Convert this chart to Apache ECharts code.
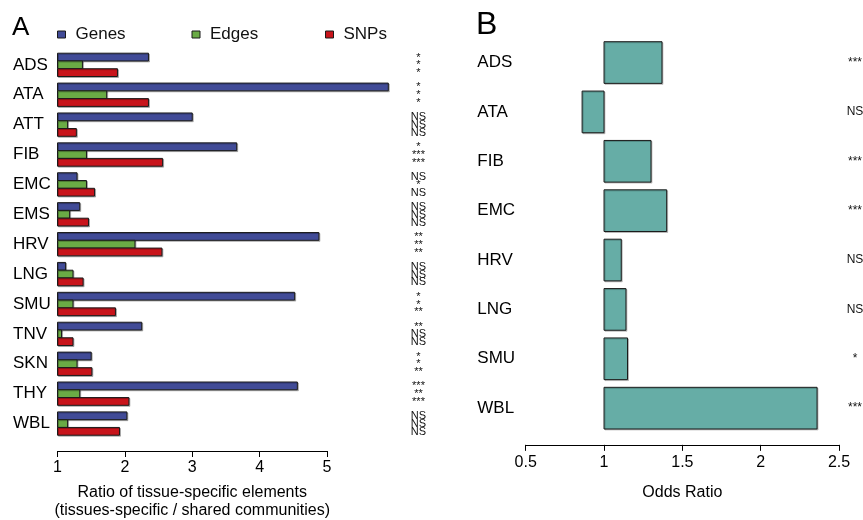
<!DOCTYPE html>
<html><head><meta charset="utf-8">
<script src="https://cdn.jsdelivr.net/npm/echarts@6/dist/echarts.min.js"></script>
<style>html,body{margin:0;padding:0;background:#fff}#c{width:863px;height:520px}</style>
</head><body><div id="c"></div>
<script>
// ---------- Panel A data ----------
const tissuesA = ['ADS','ATA','ATT','FIB','EMC','EMS','HRV','LNG','SMU','TNV','SKN','THY','WBL'];
const genes = [2.35, 5.91, 3.00, 3.66, 1.29, 1.33, 4.88, 1.12, 4.52, 2.25, 1.50, 4.56, 2.03];
const edges = [1.37, 1.73, 1.15, 1.43, 1.43, 1.18, 2.15, 1.23, 1.23, 1.06, 1.29, 1.33, 1.15];
const snps  = [1.89, 2.35, 1.28, 2.56, 1.55, 1.46, 2.55, 1.38, 1.86, 1.23, 1.51, 2.06, 1.92];
const sigGenes = ['*','*','NS','*','NS','NS','**','NS','*','**','*','***','NS'];
const sigEdges = ['*','*','NS','***','*','NS','**','NS','*','NS','*','**','NS'];
const sigSnps  = ['*','*','NS','***','NS','NS','**','NS','**','NS','**','***','NS'];
const seriesNamesA = ['Genes','Edges','SNPs'];
// ---------- Panel B data ----------
const tissuesB = ['ADS','ATA','FIB','EMC','HRV','LNG','SMU','WBL'];
const oddsRatio = [1.37, 0.86, 1.30, 1.40, 1.11, 1.14, 1.15, 2.36];
const sigB = ['***','NS','***','***','NS','NS','*','***'];

const FONT = '"Liberation Sans", Arial, Helvetica, sans-serif';
const colorsA = ['#414b97', '#6aab45', '#c8141b'];
const colorB = '#66ada6';
const STROKE = '#1a1a1a';

function makeA(k, vals, sig) {
  const color = colorsA[k];
  return {
    type: 'custom', name: seriesNamesA[k], xAxisIndex: 0, yAxisIndex: 0, clip: false,
    itemStyle: { color: color, borderColor: STROKE, borderWidth: 1 },
    data: vals.map((v, i) => [v, i]),
    encode: { x: 0, y: 1 },
    renderItem: function (params, api) {
      const v = api.value(0), i = api.value(1);
      const base = api.coord([1, i]);
      const end = api.coord([v, i]);
      const band = api.size([0, 1])[1];
      const bh = band * 0.78 / 3;
      const top = base[1] - 1.5 * bh + k * bh;
      const right = api.coord([5, i])[0];
      return {
        type: 'group',
        children: [
          { type: 'rect', shape: { x: base[0], y: top, width: end[0] - base[0], height: bh },
            style: { fill: color, stroke: STROKE, lineWidth: 1,
              shadowColor: 'rgba(0,0,0,0.25)', shadowOffsetX: 1, shadowOffsetY: 1, shadowBlur: 0 } },
          { type: 'text', x: right + 91.5, y: top + bh / 2 + 0.5,
            style: { text: sig[i], fill: '#111', fontSize: 11, fontFamily: FONT,
              align: 'center', verticalAlign: 'middle' } }
        ]
      };
    }
  };
}

const legendBase = {
  orient: 'horizontal', top: 24.5, padding: 0, itemWidth: 8, itemHeight: 7, icon: 'rect',
  selectedMode: false,
  textStyle: { fontSize: 17, fontFamily: FONT, color: '#111', lineHeight: 20, padding: [0, 0, 0, 5] }
};

const chart = echarts.init(document.getElementById('c'), null, { renderer: 'canvas' });
chart.setOption({
  animation: false,
  backgroundColor: '#fff',
  title: [
    { text: 'A', left: 12, top: 15, padding: 0, textStyle: { fontSize: 26, fontWeight: 'normal', fontFamily: FONT, color: '#000' } },
    { text: 'B', left: 476, top: 9.5, padding: 0, textStyle: { fontSize: 32, fontWeight: 'normal', fontFamily: FONT, color: '#000' } }
  ],
  legend: [
    Object.assign({}, legendBase, { left: 57, data: [{ name: 'Genes', itemStyle: { color: colorsA[0], borderColor: STROKE, borderWidth: 1 } }] }),
    Object.assign({}, legendBase, { left: 191.5, data: [{ name: 'Edges', itemStyle: { color: colorsA[1], borderColor: STROKE, borderWidth: 1 } }] }),
    Object.assign({}, legendBase, { left: 325, data: [{ name: 'SNPs', itemStyle: { color: colorsA[2], borderColor: STROKE, borderWidth: 1 } }] })
  ],
  grid: [
    { left: 57.5, top: 49.9, width: 269.5, height: 388.6, containLabel: false, outerBoundsMode: 'none' },
    { left: 525.7, top: 37.85, width: 313.3, height: 395, containLabel: false, outerBoundsMode: 'none' }
  ],
  xAxis: [
    { type: 'value', gridIndex: 0, min: 1, max: 5, interval: 1, offset: 12.5,
      splitLine: { show: false },
      axisLine: { show: true, lineStyle: { color: '#000', width: 1 } },
      axisTick: { show: true, length: 6, lineStyle: { color: '#000' } },
      axisLabel: { fontSize: 16, fontFamily: FONT, color: '#000', margin: 9 },
      name: 'Ratio of tissue-specific elements\n(tissues-specific / shared communities)',
      nameLocation: 'middle', nameGap: 32.7,
      nameTextStyle: { fontSize: 16, fontFamily: FONT, color: '#000', lineHeight: 18 } },
    { type: 'value', gridIndex: 1, min: 0.5, max: 2.5, interval: 0.5, offset: 12,
      splitLine: { show: false },
      axisLine: { show: true, lineStyle: { color: '#000', width: 1 } },
      axisTick: { show: true, length: 6, lineStyle: { color: '#000' } },
      axisLabel: { fontSize: 16, fontFamily: FONT, color: '#000', margin: 10 },
      name: 'Odds Ratio', nameLocation: 'middle', nameGap: 40,
      nameTextStyle: { fontSize: 16, fontFamily: FONT, color: '#000' } }
  ],
  yAxis: [
    { type: 'category', gridIndex: 0, data: tissuesA, inverse: true,
      axisLine: { show: false }, axisTick: { show: false }, splitLine: { show: false },
      axisLabel: { fontSize: 17, fontFamily: FONT, color: '#000', align: 'left', margin: 44.5, padding: [0, 0, 7, 0] } },
    { type: 'category', gridIndex: 1, data: tissuesB, inverse: true,
      axisLine: { show: false }, axisTick: { show: false }, splitLine: { show: false },
      axisLabel: { fontSize: 17, fontFamily: FONT, color: '#000', align: 'left', margin: 48.4, padding: [0, 0, 4, 0] } },
    { type: 'category', gridIndex: 1, data: tissuesB, inverse: true, position: 'right',
      axisLine: { show: false }, axisTick: { show: false }, splitLine: { show: false },
      axisLabel: { fontSize: 12, fontFamily: FONT, color: '#111', align: 'center', margin: 16,
        formatter: function (val, idx) { return sigB[idx]; } } }
  ],
  series: [
    makeA(0, genes, sigGenes),
    makeA(1, edges, sigEdges),
    makeA(2, snps, sigSnps),
    { type: 'custom', name: 'Odds Ratio', xAxisIndex: 1, yAxisIndex: 1, clip: false,
      data: oddsRatio.map((v, i) => [v, i]),
      encode: { x: 0, y: 1 },
      renderItem: function (params, api) {
        const v = api.value(0), i = api.value(1);
        const base = api.coord([1, i]);
        const end = api.coord([v, i]);
        const h = api.size([0, 1])[1] * 0.844;
        return { type: 'rect',
          shape: { x: Math.min(base[0], end[0]), y: base[1] - h / 2, width: Math.abs(end[0] - base[0]), height: h },
          style: { fill: colorB, stroke: STROKE, lineWidth: 1,
            shadowColor: 'rgba(0,0,0,0.2)', shadowOffsetX: 1, shadowOffsetY: 1, shadowBlur: 0 } };
      } }
  ]
});
</script></body></html>
